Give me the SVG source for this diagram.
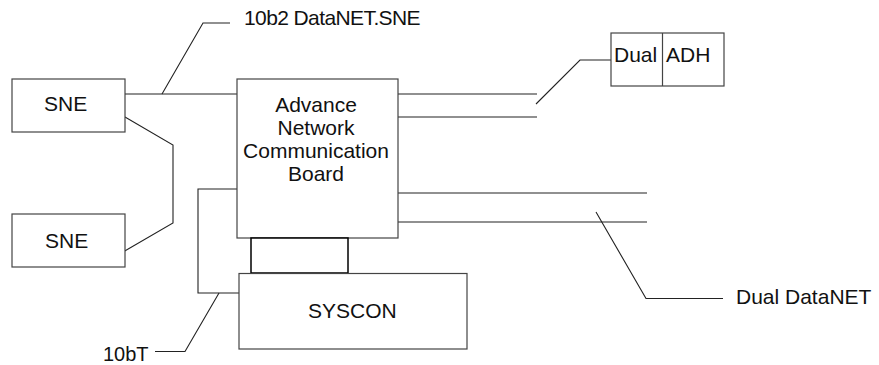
<svg xmlns="http://www.w3.org/2000/svg" width="879" height="365" viewBox="0 0 879 365">
<style>
.box{fill:#fff;stroke:#444;stroke-width:1.2}
.ln{fill:none;stroke:#222;stroke-width:1.1}
.t{font-family:"Liberation Sans",Arial,sans-serif;font-size:21px;fill:#111}
.m{text-anchor:middle}
</style>
<rect width="879" height="365" fill="#fff"/>
<g id="connectors">
<path class="ln" d="M125,94 H237"/>
<path class="ln" d="M162,94 L203,23 H230"/>
<path class="ln" d="M125,117 L173,145 V223 L123,252"/>
<path class="ln" d="M237,189 H198 V293 H239"/>
<path class="ln" d="M219,293 L185,351.5 H155"/>
<path class="ln" d="M398,94 H537"/>
<path class="ln" d="M398,117 H537"/>
<path class="ln" d="M536,104 L580,60 H611"/>
<path class="ln" d="M398,193 H647"/>
<path class="ln" d="M398,222 H647"/>
<path class="ln" d="M596,212 L646,298.5 H723"/>
</g>
<g id="sne1">
<rect class="box" x="12" y="79" width="113" height="53"/>
<text class="t" x="44" y="111">SNE</text>
</g>
<g id="sne2">
<rect class="box" x="12" y="214" width="113" height="53"/>
<text class="t" x="45" y="248">SNE</text>
</g>
<g id="ancb">
<rect class="box" x="237" y="79" width="161" height="159"/>
<text class="t m" x="316" y="112">Advance</text>
<text class="t m" x="316" y="135">Network</text>
<text class="t m" x="316" y="158">Communication</text>
<text class="t m" x="316" y="181">Board</text>
</g>
<g id="connector-block">
<rect x="251" y="238" width="97" height="35" fill="#fff" stroke="#000" stroke-width="1.5"/>
</g>
<g id="syscon">
<rect class="box" x="239" y="273.5" width="228" height="75.5"/>
<text class="t" x="308" y="318">SYSCON</text>
</g>
<g id="dual-adh">
<rect class="box" x="611" y="33" width="113" height="53"/>
<line x1="662.5" y1="33" x2="662.5" y2="86" stroke="#444" stroke-width="1.2"/>
<text class="t" x="614" y="62">Dual</text>
<text class="t" x="666" y="62">ADH</text>
</g>
<g id="labels">
<text class="t" x="244" y="25" style="letter-spacing:-0.6px">10b2 DataNET.SNE</text>
<text class="t" x="103" y="361" style="font-size:20px">10bT</text>
<text class="t" x="736" y="304">Dual DataNET</text>
</g>
</svg>
